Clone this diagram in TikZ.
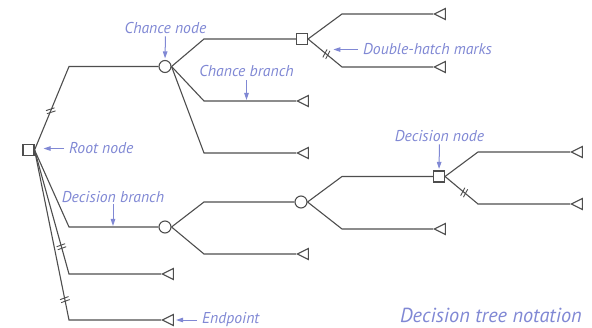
\documentclass[tikz,border=0pt]{standalone}
\usepackage{fontspec}
\setmainfont{PT Sans}
\usetikzlibrary{shapes.geometric,arrows.meta}

\definecolor{treeline}{HTML}{4E4E4E}
\definecolor{notecol}{HTML}{8088D4}

\tikzset{
  branch/.style={draw=treeline, line width=1.1pt},
  decnode/.style={draw=treeline, line width=1.1pt, fill=white, rectangle,
    minimum size=11pt, inner sep=0pt},
  chnode/.style={draw=treeline, line width=1.1pt, fill=white, circle,
    minimum size=12pt, inner sep=0pt},
  endnode/.style={draw=treeline, line width=1.1pt, fill=white,
    isosceles triangle, isosceles triangle stretches, shape border rotate=180,
    minimum width=11pt, minimum height=11pt, inner sep=0pt, anchor=apex},
  note/.style={text=notecol, font=\itshape\fontsize{15.7}{18}\selectfont, inner sep=0pt},
  notearrow/.style={draw=notecol, line width=1pt,
    -{Triangle[length=7pt,width=4.5pt]}},
  dhatch/.pic={
    \draw[treeline, line width=0.9pt] (-4.5,-1.6) -- (4.5,-1.6);
    \draw[treeline, line width=0.9pt] (-4.5,1.6) -- (4.5,1.6);
  },
}

\begin{document}
\begin{tikzpicture}[x=1pt, y=-1pt]
  \path[use as bounding box] (0,0) rectangle (592,328);

  % columns where the branches turn horizontal
  \coordinate (x1) at (69,0);
  \coordinate (x2) at (204,0);
  \coordinate (x3) at (342,0);
  \coordinate (x4) at (478,0);

  % decision and chance nodes
  \node[decnode] (root) at (28.5,150) {};
  \node[chnode]  (c1)   at (165,66.5) {};
  \node[decnode] (s1)   at (302,39) {};
  \node[chnode]  (c2)   at (165,227) {};
  \node[chnode]  (c3)   at (301,202) {};
  \node[decnode] (d2)   at (439,176.5) {};

  % endpoints
  \node[endnode] (t1)  at (433,14) {};
  \node[endnode] (t2)  at (433,67) {};
  \node[endnode] (t3)  at (296,101) {};
  \node[endnode] (t4)  at (296,153) {};
  \node[endnode] (t5)  at (296,254) {};
  \node[endnode] (t6)  at (433,229) {};
  \node[endnode] (t7)  at (570,152) {};
  \node[endnode] (t8)  at (570,204) {};
  \node[endnode] (t9)  at (161,274) {};
  \node[endnode] (t10) at (161,320) {};

  % branches
  \draw[branch] (root.east) -- (c1.west -| x1) coordinate[pos=0.47] (h0) -- (c1.west);
  \draw[branch] (c1.east) -- (s1.west -| x2) -- (s1.west);
  \draw[branch] (c1.east) -- (t3.apex -| x2) -- (t3.apex);
  \draw[branch] (c1.east) -- (t4.apex -| x2) -- (t4.apex);
  \draw[branch] (s1.east) -- (t1.apex -| x3) -- (t1.apex);
  \draw[branch] (s1.east) -- (t2.apex -| x3) coordinate[pos=0.54] (h1) -- (t2.apex);
  \draw[branch] (root.east) -- (c2.west -| x1) -- (c2.west);
  \draw[branch] (root.east) -- (t9.apex -| x1) coordinate[pos=0.78] (h2) -- (t9.apex);
  \draw[branch] (root.east) -- (t10.apex -| x1) coordinate[pos=0.88] (h3) -- (t10.apex);
  \draw[branch] (c2.east) -- (c3.west -| x2) -- (c3.west);
  \draw[branch] (c2.east) -- (t5.apex -| x2) -- (t5.apex);
  \draw[branch] (c3.east) -- (d2.west -| x3) -- (d2.west);
  \draw[branch] (c3.east) -- (t6.apex -| x3) -- (t6.apex);
  \draw[branch] (d2.east) -- (t7.apex -| x4) -- (t7.apex);
  \draw[branch] (d2.east) -- (t8.apex -| x4) coordinate[pos=0.58] (h4) -- (t8.apex);

  % double-hatch marks on excluded branches
  \pic[rotate=18] at (h0) {dhatch};
  \pic[rotate=62] at (h1) {dhatch};
  \pic[rotate=20] at (h2) {dhatch};
  \pic[rotate=20] at (h3) {dhatch};
  \pic[rotate=62] at (h4) {dhatch};

  % notes
  \node[note, anchor=base] (lCN) at (165.5,34) {Chance node};
  \node[note, anchor=base] (lCB) at (246.5,77) {Chance branch};
  \node[note, anchor=base west] (lDH) at (363,55) {Double-hatch marks};
  \node[note, anchor=base west] (lRN) at (69,154) {Root node};
  \node[note, anchor=base] (lDB) at (113,202.5) {Decision branch};
  \node[note, anchor=base west] (lEP) at (202,324) {Endpoint};
  \node[note, anchor=base] (lDN) at (439.5,142) {Decision node};
  \node[text=notecol, font=\itshape\fontsize{20.3}{24}\selectfont, inner sep=0pt,
        anchor=base east] (title) at (582,323) {Decision tree notation};

  \draw[notearrow, shorten <=2pt, shorten >=1.5pt] (lCN.south) -- (c1.north);
  \draw[notearrow, shorten <=3pt, shorten >=1pt] (lCB.south) -- (lCB.south |- t3.apex);
  \draw[notearrow, shorten <=5pt, shorten >=7pt] (lDH.west) -- (lDH.west -| h1);
  \draw[notearrow, shorten <=5pt, shorten >=9pt] (lRN.west) -- (lRN.west -| root.east);
  \draw[notearrow, shorten <=1pt, shorten >=1pt] (lDB.south) -- (lDB.south |- c2.west);
  \draw[notearrow, shorten <=5pt, shorten >=15pt] (lEP.west) -- (lEP.west -| t10.apex);
  \draw[notearrow, shorten <=2pt, shorten >=1.5pt] (lDN.south) -- (d2.north);
\end{tikzpicture}
\end{document}
